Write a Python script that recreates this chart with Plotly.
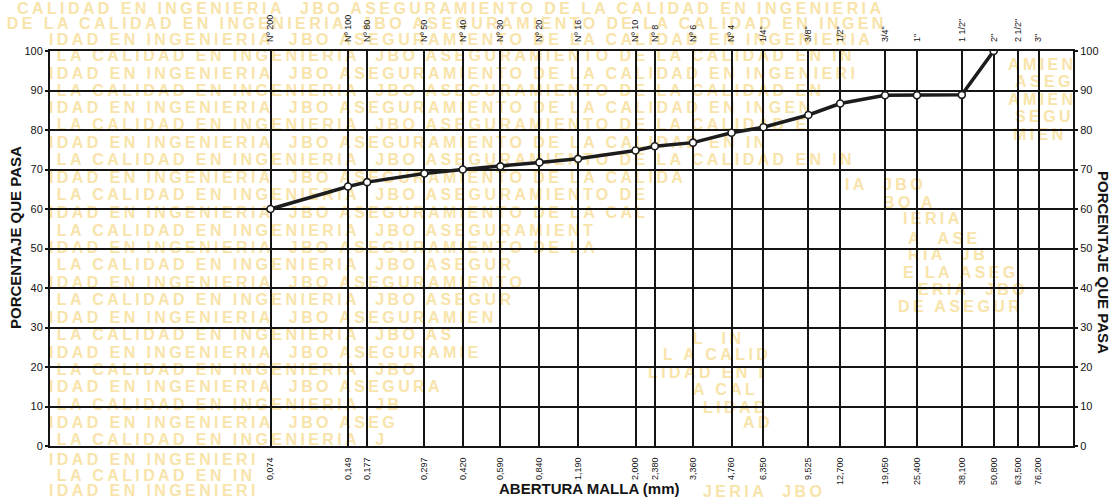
import plotly.graph_objects as go
import math

# Sieve openings (mm) and their designations
sieve_mm = [0.074, 0.149, 0.177, 0.297, 0.420, 0.590, 0.840, 1.190, 2.000, 2.380,
            3.360, 4.760, 6.350, 9.525, 12.700, 19.050, 25.400, 38.100, 50.800,
            63.500, 76.200]
sieve_names = ["Nº 200", "Nº 100", "Nº 80", "Nº 50", "Nº 40", "Nº 30", "Nº 20",
               "Nº 16", "Nº 10", "Nº 8", "Nº 6", "Nº 4", '1/4"', '3/8"', '1/2"',
               '3/4"', '1"', '1 1/2"', '2"', '2 1/2"', '3"']
opening_labels = ["0,074", "0,149", "0,177", "0,297", "0,420", "0,590", "0,840",
                  "1,190", "2,000", "2,380", "3,360", "4,760", "6,350", "9,525",
                  "12,700", "19,050", "25,400", "38,100", "50,800", "63,500",
                  "76,200"]

# Percent passing for the tested sieves (0,074 mm to 50,8 mm)
tested_mm = sieve_mm[:19]
passing_pct = [60.0, 65.7, 66.8, 69.0, 70.0, 70.8, 71.8, 72.7, 74.8, 75.9,
               76.8, 79.3, 80.7, 83.8, 86.7, 88.8, 88.8, 88.9, 100.0]

y_ticks = list(range(0, 101, 10))

# Page geometry (pixels)
FIG_W, FIG_H = 1116, 499
M_L, M_R, M_T, M_B = 50, 43, 51, 53
PLOT_W = FIG_W - M_L - M_R
PLOT_H = FIG_H - M_T - M_B


def px_x(px):
    return (px - M_L) / PLOT_W


def px_y(py):
    return (FIG_H - M_B - py) / PLOT_H


INK = "#141414"
FONT = "Liberation Sans, Arial, sans-serif"

fig = go.Figure()

fig.add_trace(go.Scatter(
    x=tested_mm, y=passing_pct, mode="lines+markers",
    line=dict(color="#1c1c1c", width=3.5),
    marker=dict(size=7, color="white", line=dict(color="#1c1c1c", width=1.6)),
    hoverinfo="x+y", showlegend=False,
))
# companion trace that carries the top and right axes
fig.add_trace(go.Scatter(
    x=tested_mm, y=passing_pct, xaxis="x2", yaxis="y2", mode="lines",
    line=dict(width=0), opacity=0, hoverinfo="skip", showlegend=False,
))

x_range = [math.log10(0.0101), math.log10(104.0)]

# Pale background lettering: (row y, start x, phrase offset, characters)
phrase = "CALIDAD EN INGENIERIA  JBO ASEGURAMIENTO DE LA "
wm_rows = [
    (6, 14, 0, 70), (21, -4, 40, 70), (37, 46, 3, 67), (53, 46, 43, 64),
    (71, 46, 3, 64), (88, 46, 43, 62), (105, 46, 3, 60), (122, 46, 43, 60),
    (140, 46, 3, 57), (157, 46, 43, 64), (175, 46, 3, 50), (192, 46, 43, 47),
    (210, 46, 3, 47), (228, 46, 43, 43), (245, 46, 3, 43), (262, 46, 43, 37),
    (280, 46, 3, 38), (297, 46, 43, 37), (315, 46, 3, 35), (332, 46, 43, 33),
    (350, 46, 3, 34), (367, 46, 43, 30), (384, 46, 3, 31), (402, 46, 43, 29),
    (420, 46, 3, 28), (437, 46, 43, 28), (457, 46, 3, 17), (473, 46, 43, 17),
    (488, 46, 3, 17),
]
wm_bits = [
    (62, 1005, "AMIEN"), (79, 1012, "ASEG"), (97, 1005, "AMIEN"),
    (114, 1012, "SEGU"), (132, 1010, "MIEN"),
    (182, 842, "IA  JBO"), (200, 880, "BO A"), (216, 900, "IERIA"),
    (236, 905, "A  ASE"), (252, 905, "RIA  JB"), (270, 900, "E LA ASEG"),
    (287, 915, "ERIA  JBO"), (304, 895, "DE ASEGUR"),
    (336, 690, "L  IN"), (352, 660, "L A CALID"), (370, 645, "LIDAD EN I"),
    (387, 690, "A CAL"), (405, 700, "LIDAD"), (420, 740, "AD"),
    (489, 700, "JERIA  JBO"),
]

shapes = []
wm_font = dict(family="Liberation Sans, Arial, sans-serif", size=16,
               color="#f8e4aa")


def wm_shape(y, x, text):
    return dict(
        type="rect", xref="paper", yref="paper", layer="below",
        x0=px_x(x), x1=px_x(x + 5), y0=px_y(y + 6), y1=px_y(y - 6),
        line=dict(width=0), fillcolor="rgba(0,0,0,0)",
        label=dict(text="<b><span style='letter-spacing:3.4px'>" + text + "</span></b>",
                   font=wm_font, textposition="middle left", padding=0),
    )


for y, x, off, n in wm_rows:
    long_text = (phrase * 4)[off:off + n]
    shapes.append(wm_shape(y, x, long_text))
for y, x, t in wm_bits:
    shapes.append(wm_shape(y, x, t))

fig.update_layout(
    width=FIG_W, height=FIG_H,
    margin=dict(l=M_L, r=M_R, t=M_T, b=M_B),
    paper_bgcolor="white", plot_bgcolor="rgba(0,0,0,0)",
    font=dict(family=FONT, color=INK),
    showlegend=False,
    shapes=shapes,
    xaxis=dict(
        type="log", range=x_range, tickmode="array",
        tickvals=sieve_mm, ticktext=opening_labels, tickangle=-90,
        tickfont=dict(size=9, color=INK), ticks="", ticklabelstandoff=6,
        showgrid=True, gridcolor=INK, gridwidth=2,
        showline=True, linecolor=INK, linewidth=2, mirror=True,
        zeroline=False,
    ),
    xaxis2=dict(
        type="log", range=x_range, overlaying="x", side="top",
        tickmode="array", tickvals=sieve_mm, ticktext=sieve_names,
        tickangle=-90, tickfont=dict(size=9, color=INK), ticks="",
        ticklabelstandoff=8, showgrid=False, showline=False, zeroline=False,
    ),
    yaxis=dict(
        range=[0, 100], tickmode="array", tickvals=y_ticks,
        tickfont=dict(size=11, color=INK), ticks="outside", ticklen=3,
        tickcolor=INK, tickwidth=2,
        showgrid=True, gridcolor=INK, gridwidth=2,
        showline=True, linecolor=INK, linewidth=2, mirror=True,
        zeroline=False,
    ),
    yaxis2=dict(
        range=[0, 100], overlaying="y", side="right", tickmode="array",
        tickvals=y_ticks, tickfont=dict(size=11, color=INK),
        ticks="outside", ticklen=4, tickcolor=INK, tickwidth=2,
        showgrid=False, showline=False, zeroline=False,
    ),
    annotations=[
        dict(text="<b>PORCENTAJE QUE PASA</b>", xref="paper", yref="paper",
             x=px_x(15), y=px_y(238), textangle=-90, showarrow=False,
             font=dict(size=15, color=INK), xanchor="center", yanchor="middle"),
        dict(text="<b>PORCENTAJE QUE PASA</b>", xref="paper", yref="paper",
             x=px_x(1104), y=px_y(262), textangle=90, showarrow=False,
             font=dict(size=15, color=INK), xanchor="center", yanchor="middle"),
        dict(text="<b>ABERTURA MALLA (mm)</b>", xref="paper", yref="paper",
             x=px_x(589), y=px_y(489), showarrow=False,
             font=dict(size=15, color=INK), xanchor="center", yanchor="middle"),
    ],
)

fig.write_html("out.html")
